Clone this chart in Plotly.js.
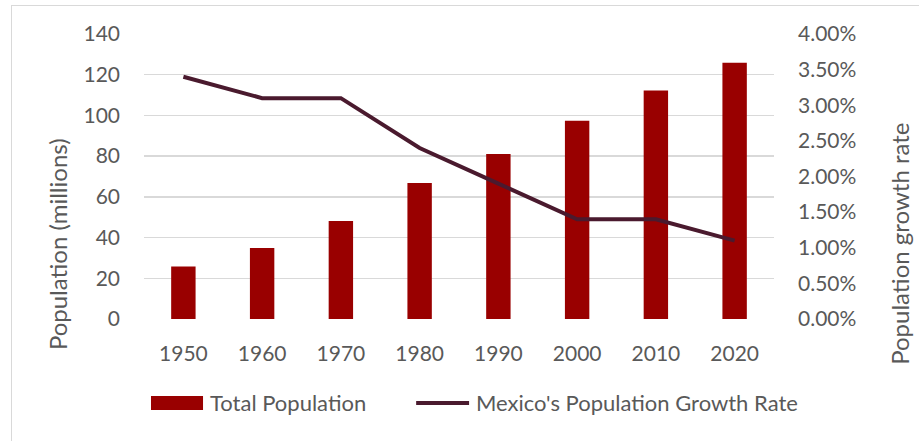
<!DOCTYPE html>
<html><head><meta charset="utf-8">
<script src="https://cdn.plot.ly/plotly-3.0.1.min.js"></script>
<style>
html,body{margin:0;padding:0;background:#fff;}
#frame{position:absolute;left:11px;top:5px;width:920px;height:440px;border:1px solid #d9d9d9;box-sizing:border-box;}
#chart{position:absolute;left:0;top:0;width:919px;height:441px;}
</style></head>
<body>
<div id="frame"></div>
<div id="chart"></div>
<script>
const years = ['1950','1960','1970','1980','1990','2000','2010','2020'];
const population = [25.8, 34.9, 48.2, 66.8, 81.1, 97.4, 112.3, 125.9];
const growthRate = [0.034, 0.031, 0.031, 0.024, 0.019, 0.014, 0.014, 0.011];
const leftTicks = [0,20,40,60,80,100,120,140];
const rightTicks = [0,0.005,0.01,0.015,0.02,0.025,0.03,0.035,0.04];
const seriesNames = ['Total Population', "Mexico's Population Growth Rate"];

const fontFam = 'Lato, "Open Sans", sans-serif';
const txt = '#595959';
const barColor = '#990000';
const lineColor = '#4a1a2e';

const data = [
  {type:'bar', x:years, y:population, name:seriesNames[0],
   marker:{color:barColor}, yaxis:'y'},
  {type:'scatter', mode:'lines', x:years, y:growthRate, name:seriesNames[1],
   line:{color:lineColor, width:4}, yaxis:'y2'}
];

const layout = {
  width:919, height:441,
  margin:{l:144, r:145, t:34, b:122},
  paper_bgcolor:'rgba(0,0,0,0)', plot_bgcolor:'rgba(0,0,0,0)',
  font:{family:fontFam, size:21, color:txt},
  bargap:0.69,
  showlegend:false,
  xaxis:{type:'category', showgrid:false, showline:false, zeroline:false,
         ticks:'', ticklabelstandoff:20, tickfont:{size:21, color:txt}},
  yaxis:{range:[0,140], tickvals:leftTicks, showgrid:true, gridcolor:'#d9d9d9', gridwidth:1.5,
         zeroline:false, showline:false, ticks:'', ticklabelstandoff:23,
         tickfont:{size:21, color:txt}},
  yaxis2:{range:[0,0.04], tickvals:rightTicks, tickformat:'.2%', overlaying:'y', side:'right',
          showgrid:false, zeroline:false, showline:false, ticks:'', ticklabelstandoff:23,
          tickfont:{size:21, color:txt}},
  shapes:[
    {type:'rect', xref:'paper', yref:'paper', x0:0.0111, x1:0.0937, y0:-0.3193, y1:-0.2702,
     fillcolor:barColor, line:{width:0}},
    {type:'line', xref:'paper', yref:'paper', x0:0.432, x1:0.516, y0:-0.2947, y1:-0.2947,
     line:{color:lineColor, width:4}}
  ],
  annotations:[
    {text:'Population (millions)', textangle:-90, xref:'paper', yref:'paper',
     x:-0.138, y:0.263, xanchor:'center', yanchor:'middle', showarrow:false,
     font:{size:24, color:txt}},
    {text:'Population growth rate', textangle:-90, xref:'paper', yref:'paper',
     x:1.198, y:0.263, xanchor:'center', yanchor:'middle', showarrow:false,
     font:{size:24, color:txt}},
    {text:seriesNames[0], xref:'paper', yref:'paper', x:0.1016, y:-0.2947,
     xanchor:'left', yanchor:'middle', showarrow:false, font:{size:22, color:txt}},
    {text:seriesNames[1], xref:'paper', yref:'paper', x:0.5238, y:-0.2947,
     xanchor:'left', yanchor:'middle', showarrow:false, font:{size:22, color:txt}}
  ]
};

Plotly.newPlot('chart', data, layout, {displayModeBar:false, staticPlot:true});
</script>
</body></html>
